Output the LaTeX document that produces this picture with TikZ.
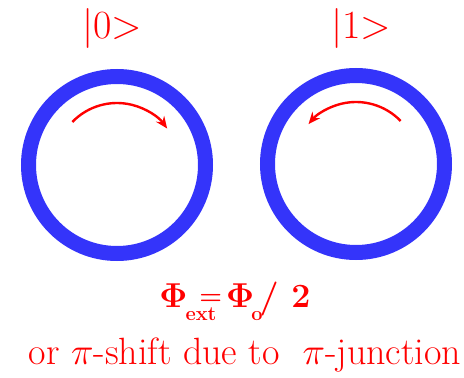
\documentclass[tikz,border=0pt]{standalone}
\usepackage[no-math]{fontspec}
\usepackage{graphicx}
\usepackage{xcolor}
\usetikzlibrary{arrows.meta}

\definecolor{ringblue}{RGB}{52,52,250}
\definecolor{fluxred}{RGB}{255,0,0}

\newcommand{\subtext}[1]{\raisebox{-13pt}{\fontsize{20}{24}\selectfont #1}}
\newcommand{\fluxsym}{\scalebox{2}{\fontsize{17}{20}\selectfont$\mathbf{\Phi}$}}
\newcommand{\pisym}{\scalebox{2.2}{\fontsize{17}{20}\selectfont$\pi$}}

\begin{document}
\begin{tikzpicture}[
    x=1pt, y=1pt,
    ring/.style={draw=ringblue, circle, line width=15pt, minimum size=177pt, inner sep=0pt},
    flow/.style={draw=fluxred, line width=2.4pt, -{Stealth[length=12pt, width=10pt]}},
    ketlabel/.style={text=fluxred, anchor=base, inner sep=0pt, font=\fontsize{40}{46}\selectfont},
    caption/.style={text=fluxred, anchor=base, inner sep=0pt}
]
    \useasboundingbox (0,0) rectangle (464,378);

    % the two loops
    \node[ring] (ring0) at (117,213) {};
    \node[ring] (ring1) at (356,214) {};

    % circulating currents
    \draw[flow] (ring0.center) ++(136:62) arc (136:36:62);
    \draw[flow] (ring1.center) ++(44:62) arc (44:140:62);

    % states
    \node[ketlabel] (ket0) at (112,339) {|0>};
    \node[ketlabel] (ket1) at (361,339) {|1>};

    % flux condition
    \node[caption, font=\fontsize{34}{40}\selectfont\bfseries] (fluxeq) at (235,70)
        {\fluxsym\kern-2pt\subtext{ext}\kern-17pt\raisebox{3pt}{\fontsize{26}{30}\selectfont =}\kern4pt
         \fluxsym\kern-3pt\subtext{o}\kern-3pt/ 2};
    \node[caption, font=\fontsize{38}{44}\selectfont] (note) at (245,13)
        {or \pisym-shift due to~~\pisym-junction};
\end{tikzpicture}
\end{document}
